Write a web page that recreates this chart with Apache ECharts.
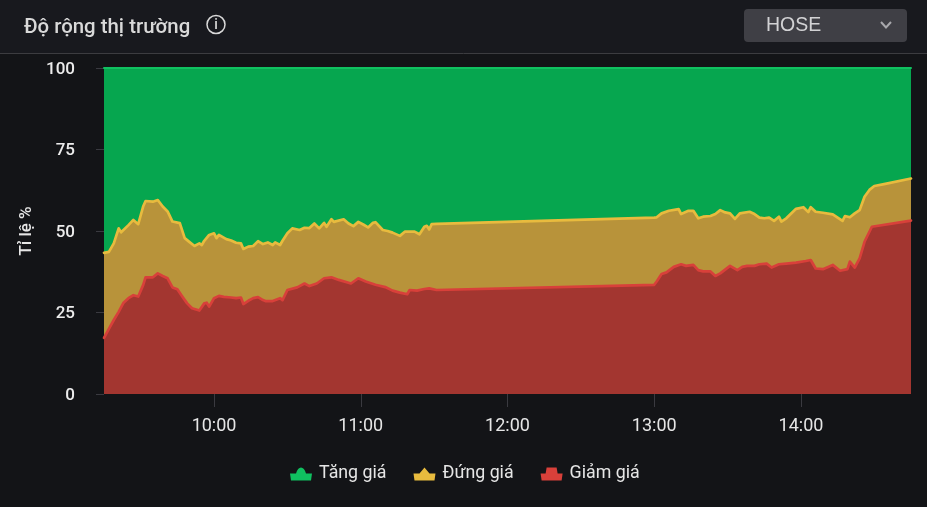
<!DOCTYPE html>
<html><head><meta charset="utf-8">
<style>html,body{margin:0;padding:0;background:#131417}#c{width:927px;height:507px}</style>
<script src="https://cdn.jsdelivr.net/npm/echarts@6/dist/echarts.min.js"></script>
</head><body><div id="c"></div>
<script>
const day='2024-01-01 ';
const hourTicks=['10:00','11:00','12:00','13:00','14:00'];
// Upper edge of each band (percent)
const yellowTimes=['09:15','09:17','09:19','09:21','09:22','09:25','09:27','09:29','09:31','09:32','09:35','09:37','09:39','09:41','09:43','09:46','09:48','09:50','09:52','09:54','09:55','09:56','09:58','10:00','10:01','10:02','10:05','10:07','10:09','10:11','10:12','10:14','10:16','10:18','10:20','10:22','10:24','10:25','10:27','10:28','10:30','10:32','10:35','10:37','10:39','10:41','10:43','10:45','10:46','10:48','10:49','10:53','10:55','10:57','10:59','11:01','11:03','11:05','11:06','11:09','11:11','11:13','11:16','11:18','11:20','11:22','11:24','11:26','11:27','11:28','11:29','11:31','13:00','13:01','13:03','13:06','13:10','13:11','13:14','13:16','13:18','13:20','13:23','13:25','13:27','13:29','13:31','13:33','13:35','13:39','13:41','13:43','13:45','13:47','13:49','13:51','13:52','13:54','13:58','14:01','14:03','14:04','14:06','14:09','14:13','14:15','14:17','14:18','14:20','14:22','14:24','14:26','14:28','14:30','14:34','14:45'];
const yellowValues=[43.3,43.6,46.2,50.8,49.6,51.8,53.4,52.1,57.5,59.2,59.0,59.5,57.5,56,52.9,52.4,47.8,46.6,45.4,46.2,45.7,47,48.8,49.3,47.8,48.8,47.5,47.1,46.4,46.2,44.5,45.2,45.4,46.9,46,46.5,45.7,46.5,45.7,47,49.3,50.8,50.3,51,50.9,52.3,50.8,52.5,51.3,53.6,52.8,53.6,52.3,51.5,52.8,52,51.1,52.5,52.7,50.3,50,49.5,48.5,49.8,49.8,49.8,49,51.3,51.6,50.5,52.1,52.2,54.1,54.2,55.4,56.2,56.7,55.2,56.2,56.2,53.9,54.4,54.6,55.2,56.4,55.7,55.4,53.7,55.4,55.9,55.2,54.1,53.9,54.1,53.1,54.4,52.9,53.9,56.8,57.3,55.8,57.3,55.9,55.6,55.1,54.1,53.1,54.6,54.2,55.4,56.4,60.5,62.6,63.8,64.4,66.1];
const redTimes=['09:15','09:17','09:19','09:21','09:23','09:25','09:27','09:29','09:31','09:32','09:35','09:37','09:39','09:41','09:43','09:45','09:47','09:49','09:51','09:54','09:56','09:57','09:58','10:00','10:02','10:04','10:07','10:09','10:11','10:12','10:14','10:16','10:18','10:20','10:21','10:24','10:27','10:28','10:30','10:34','10:37','10:39','10:42','10:45','10:48','10:51','10:56','10:59','11:02','11:06','11:10','11:13','11:16','11:19','11:20','11:23','11:26','11:28','11:31','13:00','13:01','13:03','13:05','13:08','13:11','13:13','13:16','13:18','13:20','13:23','13:25','13:27','13:31','13:34','13:36','13:38','13:41','13:43','13:46','13:48','13:51','13:54','13:58','14:02','14:04','14:06','14:09','14:13','14:16','14:19','14:20','14:22','14:24','14:26','14:29','14:45'];
const redValues=[17.2,20,22.7,25.2,28,29.4,30.3,29.9,33.4,35.8,35.8,37,36.2,35.5,32.7,32.1,29.9,27.8,26.3,25.6,27.8,28,26.8,29.4,30.1,29.8,29.6,29.4,29.6,27.6,28.6,29.4,29.7,28.8,28.5,28.5,29.4,28.8,31.9,32.7,33.9,33.1,33.9,35.5,35.8,35,33.9,35.5,34.5,33.5,32.8,31.7,31.1,30.6,31.9,31.7,32.2,32.4,31.9,33.5,34.5,36.8,37.3,39,39.8,39.3,39.6,38,37.6,37.6,36.2,37,39.3,38,39,39.3,39.3,39.8,40,38.8,39.8,40,40.3,40.8,41.1,38.5,38.3,39.6,37.8,38.3,40.6,38.8,41.6,46.7,51.3,53.2];
const greenTimes=['09:15','14:45'];
const greenValues=[100,100];
const seriesNames=['Tăng giá','Đứng giá','Giảm giá'];

const pair=(t,v)=>t.map((x,i)=>[day+x,v[i]]);
const band=(name,t,v,line,area,w)=>({name,type:'line',data:pair(t,v),showSymbol:false,symbol:'none',smooth:false,
  lineStyle:{color:line,width:w,join:'round',cap:'round'},itemStyle:{color:line},areaStyle:{color:area,opacity:1},emphasis:{disabled:true},animation:false});

const c=echarts.init(document.getElementById('c'),null,{renderer:'canvas'});
c.setOption({
  animation:false,backgroundColor:'#131417',
  title:{text:'Độ rộng thị trường',left:19,top:13,textStyle:{color:'#d9d9d9',fontFamily:'Roboto',fontSize:20.4,fontWeight:500}},
  grid:{left:104,right:16,top:68,bottom:113,containLabel:false},
  legend:{left:285,top:460,itemGap:27,itemWidth:22,itemHeight:13,
    textStyle:{color:'#e6e6e6',fontFamily:'Roboto',fontSize:17.8,padding:[0,0,0,2]},
    data:[
      {name:seriesNames[0],icon:'path://M0,6 L6,6 C7,2 9,0 11,0 C13,0 15,2 16,6 L22,6 L21,13 L1,13 Z'},
      {name:seriesNames[1],icon:'path://M0,6 L6,6 L11,0 L16,6 L22,6 L21,13 L1,13 Z'},
      {name:seriesNames[2],icon:'path://M0,6 L5,6 L6,0 L16,0 L17,6 L22,6 L21,13 L1,13 Z'}]},
  xAxis:{type:'time',min:day+'09:15',max:day+'14:45',minInterval:3600000,maxInterval:3600000,
    axisLine:{show:false},
    axisTick:{show:true,length:13,lineStyle:{color:'#3a3a40',width:1}},
    axisLabel:{color:'#e6e6e6',fontFamily:'Roboto',fontSize:18,margin:23,showMinLabel:false,showMaxLabel:false,
      formatter:v=>{const d=new Date(v);const s=String(d.getHours()).padStart(2,'0')+':'+String(d.getMinutes()).padStart(2,'0');return hourTicks.includes(s)?s:'';}},
    splitLine:{show:false}},
  yAxis:{type:'value',min:0,max:100,interval:25,name:'Tỉ lệ %',nameLocation:'middle',nameGap:69,nameRotate:90,
    nameTextStyle:{color:'#e6e6e6',fontFamily:'Roboto',fontSize:17,fontWeight:500},
    axisLine:{show:false},axisTick:{show:true,length:8,lineStyle:{color:'#3a3a40'}},
    axisLabel:{color:'#ececec',fontFamily:'Roboto',fontSize:17,fontWeight:500,margin:29,verticalAlign:'top',lineHeight:3},splitLine:{show:false}},
  series:[
    band(seriesNames[0],greenTimes,greenValues,'#10c060','#06a64f',2),
    band(seriesNames[1],yellowTimes,yellowValues,'#e8bb3e','#b8933a',2.7),
    band(seriesNames[2],redTimes,redValues,'#d8403a','#a33630',2.7)
  ],
  graphic:[
    {type:'rect',silent:true,z:-1,shape:{x:0,y:0,width:927,height:53},style:{fill:'#18191e'}},
    {type:'line',silent:true,shape:{x1:0,y1:53.5,x2:927,y2:53.5},style:{stroke:'#3c3c40',lineWidth:1}},
    {type:'circle',silent:true,shape:{cx:216,cy:24.5,r:9},style:{fill:'none',stroke:'#d9d9d9',lineWidth:1.5}},
    {type:'text',silent:true,x:216,y:25,style:{text:'i',fill:'#d9d9d9',font:'500 14px Roboto',align:'center',verticalAlign:'middle'}},
    {type:'rect',silent:true,shape:{x:744,y:9,width:163,height:33,r:4},style:{fill:'#3f3f45'}},
    {type:'text',silent:true,x:766,y:26,style:{text:'HOSE',fill:'#d2d2d4',font:'19.5px "Liberation Sans"',align:'left',verticalAlign:'middle'}},
    {type:'polyline',silent:true,shape:{points:[[881,22],[886,27.5],[891,22]]},style:{fill:'none',stroke:'#a8a8ac',lineWidth:2}}
  ]
});
</script></body></html>
